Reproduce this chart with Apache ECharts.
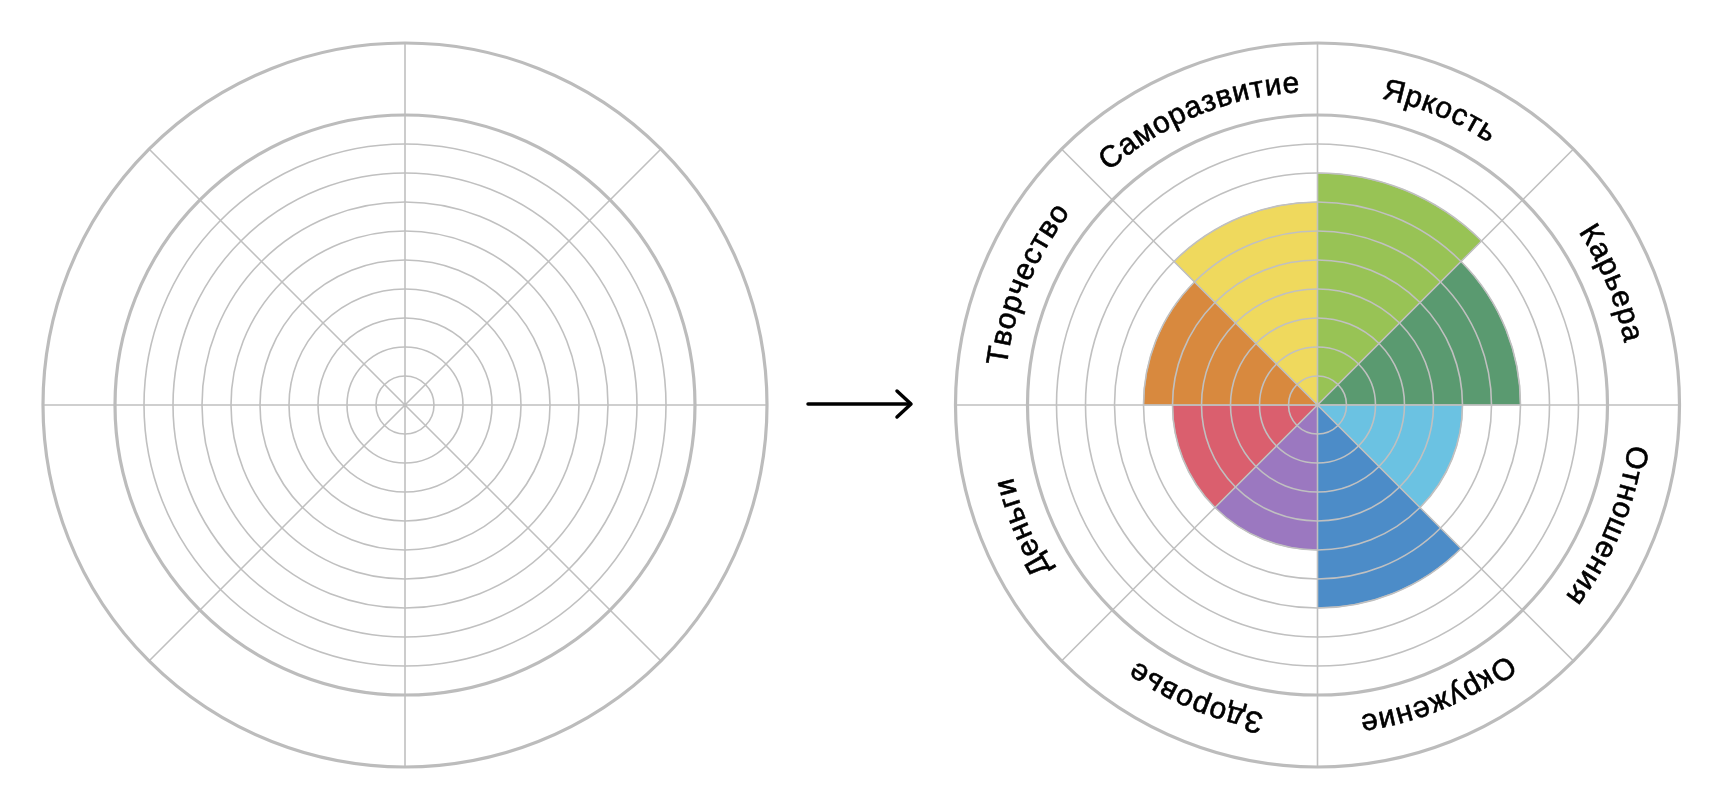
<!DOCTYPE html>
<html>
<head>
<meta charset="utf-8">
<script src="https://cdn.jsdelivr.net/npm/echarts@6/dist/echarts.min.js"></script>
<style>
html,body{margin:0;padding:0;background:#fff;}
#chart{width:1724px;height:812px;}
</style>
</head>
<body>
<div id="chart"></div>
<script>
// ---- data ----
const categories = ['Яркость', 'Карьера', 'Отношения', 'Окружение', 'Здоровье', 'Деньги', 'Творчество', 'Саморазвитие'];
const scores = [8, 7, 5, 7, 5, 5, 6, 7];
const sectorColors = ['#98c355', '#5a9a70', '#6bc2e2', '#4c8cc8', '#9b78c0', '#da5f6e', '#d8893e', '#efd95d'];
const scaleMax = 10;       // rings 1..10
const outerMax = 12.5;     // outer label band edge
const labelRadius = 11.1;  // radius (in scale units) of label band centre

// ---- layout ----
const leftCenter = [405, 405];
const rightCenter = [1317.5, 405];
const innerR = 290;
const outerR = 362;
const gridColor = '#c0c0c0';
const thickColor = '#bcbcbc';
const FONT_SIZE = 30;
const FONT = FONT_SIZE + 'px "Liberation Sans", Arial, sans-serif';
const LETTER_SPACING = 1.2;

const measureCtx = document.createElement('canvas').getContext('2d');
measureCtx.font = FONT;

function innerPolarAxes(polarIndex) {
  return {
    angle: {
      polarIndex, type: 'category', data: categories, startAngle: 90, clockwise: true, z: 10,
      boundaryGap: true,
      axisLine: { show: true, lineStyle: { color: thickColor, width: 3.2 } },
      axisTick: { show: false }, axisLabel: { show: false }, splitLine: { show: false }
    },
    radius: {
      polarIndex, type: 'value', min: 0, max: scaleMax, interval: 1, z: 10,
      axisLine: { show: false }, axisTick: { show: false }, axisLabel: { show: false },
      splitLine: { show: true, lineStyle: { color: gridColor, width: 1.6 } }
    }
  };
}
function outerPolarAxes(polarIndex) {
  return {
    angle: {
      polarIndex, type: 'category', data: categories, startAngle: 90, clockwise: true, z: 10,
      boundaryGap: true,
      axisLine: { show: true, lineStyle: { color: thickColor, width: 3.2 } },
      axisTick: { show: false }, axisLabel: { show: false },
      splitLine: { show: true, lineStyle: { color: gridColor, width: 1.6 } }
    },
    radius: {
      polarIndex, type: 'value', min: 0, max: outerMax, z: 10,
      axisLine: { show: false }, axisTick: { show: false }, axisLabel: { show: false },
      splitLine: { show: false }
    }
  };
}

const axesList = [innerPolarAxes(0), outerPolarAxes(1), innerPolarAxes(2), outerPolarAxes(3)];

function renderCurvedLabel(params, api) {
  const cs = params.coordSys;
  const idx = api.value(1);
  const name = categories[idx];
  const p = api.coord([api.value(0), idx]);
  const cx = cs.cx, cy = cs.cy;
  const dx = p[0] - cx, dy = p[1] - cy;
  const rpx = Math.sqrt(dx * dx + dy * dy);
  const phi = Math.atan2(dx, -dy);
  const chars = Array.from(name);
  const widths = chars.map(c => measureCtx.measureText(c).width);
  const total = widths.reduce((a, b) => a + b, 0) + LETTER_SPACING * (chars.length - 1);
  let s = 0;
  const children = chars.map((c, k) => {
    const mid = s + widths[k] / 2;
    s += widths[k] + LETTER_SPACING;
    const a = phi + (mid - total / 2) / rpx;
    return {
      type: 'text',
      x: cx + rpx * Math.sin(a),
      y: cy - rpx * Math.cos(a),
      rotation: -a,
      style: { text: c, font: FONT, fill: '#000', stroke: '#000', lineWidth: 0.6,
               align: 'center', verticalAlign: 'middle' }
    };
  });
  return { type: 'group', children };
}

const option = {
  backgroundColor: '#fff',
  animation: false,
  polar: [
    { center: leftCenter, radius: innerR },
    { center: leftCenter, radius: outerR },
    { center: rightCenter, radius: innerR },
    { center: rightCenter, radius: outerR }
  ],
  angleAxis: axesList.map(a => a.angle),
  radiusAxis: axesList.map(a => a.radius),
  series: [
    {
      type: 'bar',
      coordinateSystem: 'polar',
      polarIndex: 2,
      barCategoryGap: '0%',
      z: 2,
      data: scores.map((v, i) => ({ value: v, itemStyle: { color: sectorColors[i] } })),
      itemStyle: { borderColor: gridColor, borderWidth: 1 },
      silent: true
    },
    {
      type: 'custom',
      coordinateSystem: 'polar',
      polarIndex: 3,
      z: 20,
      silent: true,
      encode: { radius: 0, angle: 1 },
      data: categories.map((c, i) => [labelRadius, i]),
      renderItem: renderCurvedLabel
    }
  ],
  graphic: [
    {
      type: 'group',
      children: [
        { type: 'line', shape: { x1: 808, y1: 404, x2: 910, y2: 404 },
          style: { stroke: '#000', lineWidth: 3.5, lineCap: 'round' } },
        { type: 'polyline', shape: { points: [[897, 391], [911, 404], [897, 417]] },
          style: { stroke: '#000', lineWidth: 3.5, fill: null, lineCap: 'round', lineJoin: 'round' } }
      ]
    }
  ]
};

const chart = echarts.init(document.getElementById('chart'), null, { renderer: 'canvas' });
chart.setOption(option);
</script>
</body>
</html>
